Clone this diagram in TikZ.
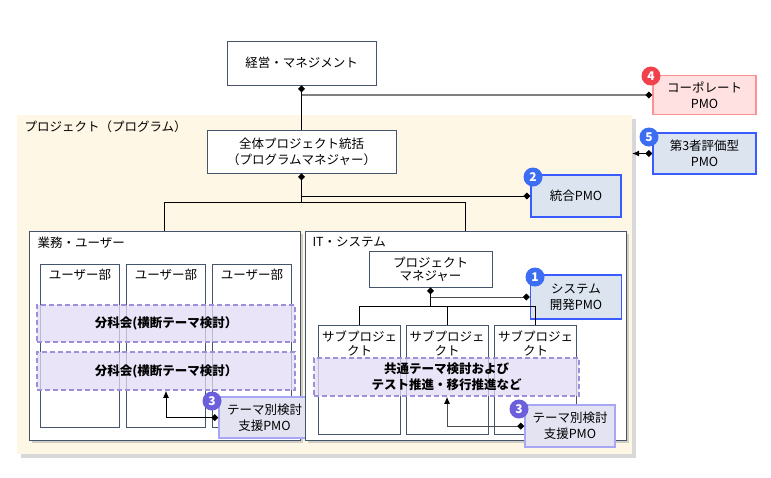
\documentclass[tikz,border=0pt]{standalone}
\usepackage{fontspec}
\setmainfont{Noto Sans CJK JP}
\usetikzlibrary{arrows.meta,shadows}

\definecolor{boxline}{HTML}{44546A}
\definecolor{progfill}{HTML}{FFF7E6}
\definecolor{pmofill}{HTML}{DCE4F0}
\definecolor{pmoline}{HTML}{3A5CFF}
\definecolor{corpfill}{HTML}{FFE1E1}
\definecolor{corpline}{HTML}{FF9090}
\definecolor{spfill}{HTML}{E3E3F2}
\definecolor{spline}{HTML}{A9A6F5}
\definecolor{themefill}{HTML}{E2DBF5}
\definecolor{themeline}{HTML}{9E8FDC}
\definecolor{badgeblue}{HTML}{3D6DF2}
\definecolor{badgered}{HTML}{F1414C}
\definecolor{badgepurple}{HTML}{6C5FDC}

\newcommand{\boxfont}{\fontsize{12.5}{16}\selectfont}

\begin{document}
\begin{tikzpicture}[x=1pt, y=-1pt, every node/.style={font=\boxfont}]
        \tikzstyle{box}=[draw=boxline, fill=white, line width=0.8pt, inner sep=0pt, align=center]
        \tikzstyle{group}=[box, drop shadow={shadow xshift=3pt, shadow yshift=-3pt, fill=black!35}]
        \tikzstyle{progbg}=[fill=progfill, inner sep=0pt, drop shadow={shadow xshift=4pt, shadow yshift=-4pt, fill=black!30}]
        \tikzstyle{pmo}=[draw=pmoline, fill=pmofill, line width=1.5pt, inner sep=0pt, align=center]
        \tikzstyle{corpbox}=[draw=corpline, fill=corpfill, line width=1.5pt, inner sep=0pt, align=center]
        \tikzstyle{spbox}=[draw=spline, fill=spfill, line width=1.5pt, inner sep=0pt, align=center]
        \tikzstyle{theme}=[draw=themeline, fill=themefill, fill opacity=0.75, text opacity=1, line width=1.5pt, dash pattern=on 5pt off 3pt, inner sep=0pt, align=center, font=\boxfont\bfseries]
        \tikzstyle{badge}=[circle, text=white, minimum size=19pt, inner sep=0pt, font=\fontsize{12}{12}\selectfont\bfseries]
        \tikzstyle{link}=[line width=1pt, black]
        \tikzstyle{grayline}=[line width=1.8pt, black!50]

        \useasboundingbox (0,0) rectangle (771,477);

        % background of the program
        \node[progbg, minimum width=615, minimum height=339] (prog) at (324.5,284.5) {};
        \node[anchor=west] (progl) at (21,127) {プロジェクト（プログラム）};

        \node[box, minimum width=149, minimum height=44] (mgmt) at (301.5,63) {経営・マネジメント};
        \node[box, minimum width=189, minimum height=43] (pgm) at (301.5,151.5) {全体プロジェクト統括\\（プログラムマネジャー）};

        \node[corpbox, minimum width=103, minimum height=39] (corp) at (704.5,95) {コーポレート\\PMO};
        \node[pmo, minimum width=103, minimum height=41] (eval) at (704.5,153.5) {第3者評価型\\PMO};
        \node[pmo, minimum width=90, minimum height=42] (ipmo) at (576,196) {統合PMO};

        % business side
        \node[group, minimum width=271, minimum height=209] (biz) at (164.5,335.5) {};
        \node[anchor=west] (bizl) at (34,243) {業務・ユーザー};
        \foreach \i/\x in {1/80,2/166,3/252} {
            \node[box, minimum width=79, minimum height=163] (u\i) at (\x,345.5) {};
            \node (ul\i) at (\x,275) {ユーザー部};
        }
        \node[theme, minimum width=258, minimum height=37] (bk1) at (166,323.5) {分科会(横断テーマ検討）};
        \node[theme, minimum width=258, minimum height=38] (bk2) at (166,371) {分科会(横断テーマ検討）};
        \node[spbox, minimum width=91, minimum height=41] (sp1) at (264.5,417.5) {テーマ別検討\\支援PMO};

        % system side
        \node[group, minimum width=321, minimum height=209] (it) at (465.5,335.5) {};
        \node[anchor=west] (itl) at (309,242) {IT・システム};
        \node[box, minimum width=123, minimum height=36, font=\fontsize{12.5}{13}\selectfont] (itpm) at (430.5,269) {プロジェクト\\マネジャー};
        \node[pmo, minimum width=91, minimum height=44] (sys) at (576,297) {システム\\開発PMO};
        \foreach \i/\x in {1/359.5,2/447,3/535.5} {
            \node[box, minimum width=82, minimum height=109] (s\i) at (\x,379.5) {};
            \node[anchor=north, align=center, font=\fontsize{12.5}{14}\selectfont] (sl\i) at (\x,327) {サブプロジェ\\クト};
        }
        \node[theme, minimum width=265, minimum height=38] (kyo) at (446.5,377) {共通テーマ検討および\\テスト推進・移行推進など};
        \node[spbox, minimum width=90, minimum height=42] (sp2) at (570,426) {テーマ別検討\\支援PMO};

        % numbered badges
        \node[badge, fill=badgered] (b4) at (651,76) {4};
        \node[badge, fill=badgeblue] (b5) at (649,137) {5};
        \node[badge, fill=badgeblue] (b2) at (533,177) {2};
        \node[badge, fill=badgeblue] (b1) at (535,277) {1};
        \node[badge, fill=badgepurple] (b3a) at (212,401) {3};
        \node[badge, fill=badgepurple] (b3b) at (519,409) {3};

        % connectors
        \draw[link, {Diamond[length=7pt,width=7pt]}-] (mgmt.south) -- (pgm.north);
        \draw[grayline, {Diamond[length=7pt,width=7pt,black]}-] (corp.west) -- (corp.west -| mgmt.south);
        \draw[link, {Diamond[length=7pt,width=7pt]}-] (pgm.south) -- ++(0,29) coordinate (j1);
        \draw[link] (biz.north) |- (j1) -| (it.north);
        \draw[link, {Diamond[length=7pt,width=7pt]}-] (ipmo.west) -- (ipmo.west -| pgm.south);
        \draw[link, {Diamond[length=7pt,width=7pt]}-{Latex[length=7pt,width=6pt]}] (eval.west) -- (eval.west -| prog.east);

        \draw[link, {Diamond[length=7pt,width=7pt]}-] (itpm.south) -- ++(0,19) coordinate (j2);
        \draw[link] (s1.north) |- (j2) -| (s3.north);
        \draw[link] (s2.north) -- (s2.north |- j2);
        \draw[link, black!70, {Diamond[length=7pt,width=7pt,black]}-] (sys.west) -- (sys.west -| itpm.south);

        \draw[link, {Diamond[length=7pt,width=7pt]}-{Latex[length=7pt,width=6pt]}] (sp1.west) -| (bk2.south -| u2.north);
        \draw[link, black!70, {Diamond[length=7pt,width=7pt,black]}-{Latex[length=7pt,width=6pt,black]}] (sp2.west) -| (kyo.south -| s2.north);
    \end{tikzpicture}
\end{document}
